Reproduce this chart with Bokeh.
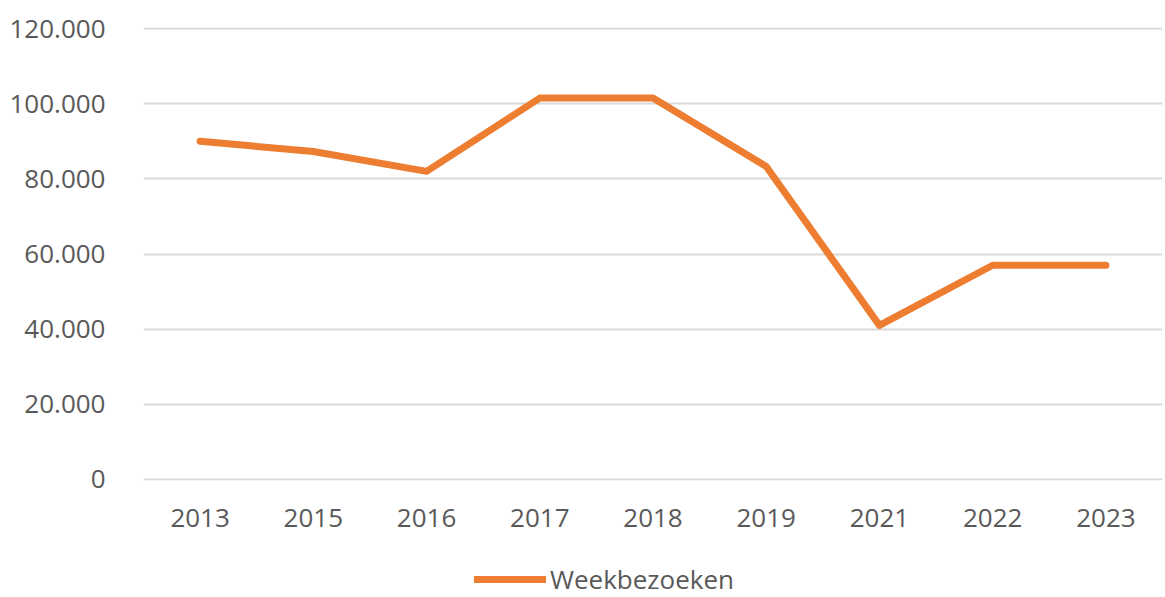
from bokeh.plotting import figure
from bokeh.layouts import column
from bokeh.models import Range1d, FixedTicker, Legend, LegendItem
from bokeh.embed import file_html
from bokeh.resources import INLINE

years = ["2013", "2015", "2016", "2017", "2018", "2019", "2021", "2022", "2023"]
weekbezoeken = [90000, 87300, 82000, 101500, 101500, 83300, 41000, 57000, 57000]
y_ticks = [0, 20000, 40000, 60000, 80000, 100000, 120000]
y_tick_labels = ["0", "20.000", "40.000", "60.000", "80.000", "100.000", "120.000"]
series_name = "Weekbezoeken"

FONT = "Open Sans"
TXT = "#595959"
ORANGE = "#ED7D31"

p = figure(x_range=years, y_range=Range1d(-300, 120300), width=1165, height=545,
           output_backend="svg", toolbar_location=None,
           min_border_left=143, min_border_right=3, min_border_top=27,
           min_border_bottom=65)
p.outline_line_color = None
p.background_fill_color = "white"
p.border_fill_color = "white"

p.xgrid.grid_line_color = None
p.ygrid.grid_line_color = "#d9d9d9"
p.ygrid.grid_line_width = 2

p.yaxis.ticker = FixedTicker(ticks=y_ticks)
p.yaxis.major_label_overrides = dict(zip(y_ticks, y_tick_labels))
for ax in (p.xaxis[0], p.yaxis[0]):
    ax.axis_line_color = None
    ax.major_tick_line_color = None
    ax.minor_tick_line_color = None
    ax.major_label_text_font = FONT
    ax.major_label_text_font_size = "26px"
    ax.major_label_text_color = TXT
p.yaxis.major_label_standoff = 32
p.xaxis.major_label_standoff = 22

p.line(years, weekbezoeken, line_color=ORANGE, line_width=7,
       line_join="round", line_cap="round")

# legend strip below the chart (its own series copy lies outside this strip's view)
p2 = figure(width=1165, height=52, x_range=Range1d(0, 1165), y_range=Range1d(0, 52),
            output_backend="svg", toolbar_location=None,
            x_axis_type=None, y_axis_type=None,
            min_border_left=0, min_border_right=0, min_border_top=0, min_border_bottom=0)
p2.outline_line_color = None
p2.background_fill_color = "white"
p2.border_fill_color = "white"
r2 = p2.line(x=list(range(len(years))), y=weekbezoeken, line_color=ORANGE,
             line_width=7, line_cap="round")

legend = Legend(items=[LegendItem(label=series_name, renderers=[r2])],
                location=(331, 0), orientation="horizontal",
                glyph_width=72, glyph_height=26, label_standoff=4,
                padding=0, margin=0, spacing=0,
                border_line_color=None, background_fill_alpha=0,
                label_text_font=FONT, label_text_font_size="26px",
                label_text_color=TXT)
p2.add_layout(legend, "center")

open("out.html", "w").write(file_html(column(p, p2, spacing=0), INLINE))
